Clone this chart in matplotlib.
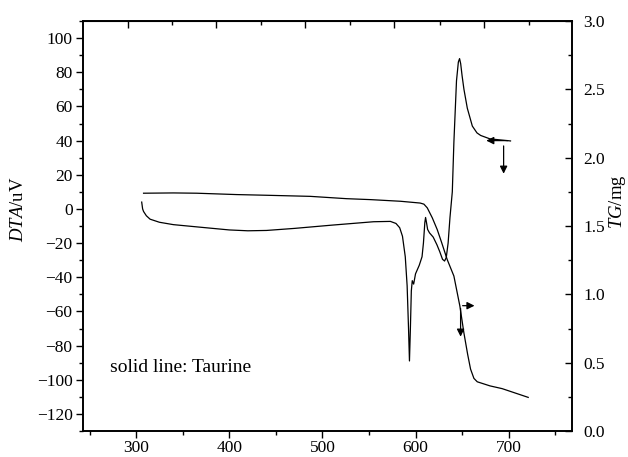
import matplotlib
matplotlib.use('Agg')
import matplotlib.pyplot as plt
import numpy as np

plt.rcParams['font.family'] = ['Liberation Serif', 'DejaVu Serif']
plt.rcParams['mathtext.fontset'] = 'custom'
plt.rcParams['mathtext.it'] = 'Liberation Serif:italic'
plt.rcParams['mathtext.rm'] = 'Liberation Serif'

# DTA curve (left axis, uV)
dta_t = [306, 307, 308, 311, 315, 325, 340, 365, 400, 420, 440, 470, 510, 555, 573,
         579, 583, 586, 589, 591, 592.5, 593.5, 594.5, 595.5, 596.5, 598, 600, 604,
         607, 608.5, 610, 610.8, 611.8, 613, 615, 619, 623, 626, 629, 631.2, 633,
         635, 637, 639.5, 641.2, 644, 646, 647.3, 648.5, 650, 652, 655.6, 661, 666,
         670, 680, 702]
dta_v = [4, 0, -1.5, -4, -6, -7.8, -9.2, -10.5, -12.3, -12.8, -12.6, -11.4, -9.5, -7.5, -7.3,
         -8.5, -11, -16, -28, -45, -70, -89, -70, -48, -42, -44, -38, -33,
         -28, -20, -8, -5, -8, -12, -14, -16.5, -21, -25, -29.5, -30.5, -28.5,
         -20, -5, 10, 39, 75, 86, 88, 85, 78, 70, 59, 48.5, 44.5,
         43, 41, 39.8]

# TG curve (right axis, mg)
tg_t = [308, 340, 365, 408, 440, 487, 526, 552, 584, 605, 609, 612.6, 618, 623.3, 628,
        634, 641.2, 647.6, 651.9, 656, 659.1, 662.7, 666.3, 680, 693, 721]
tg_v = [1.74, 1.742, 1.74, 1.73, 1.725, 1.717, 1.70, 1.693, 1.681, 1.668, 1.66, 1.633,
        1.56, 1.474, 1.38, 1.255, 1.134, 0.915, 0.72, 0.56, 0.453, 0.385, 0.36, 0.33,
        0.31, 0.246]

fig = plt.figure(figsize=(6.28, 4.57), dpi=100)
ax = fig.add_axes([0.1322, 0.0569, 0.7786, 0.8971])
ax2 = ax.twinx()

ax.plot(dta_t, dta_v, color='black', lw=0.9)
ax2.plot(tg_t, tg_v, color='black', lw=0.9)

ax.set_xlim(243, 768)
ax.set_ylim(-130, 110)
ax2.set_ylim(0, 3.0)

ax.set_xticks([300, 400, 500, 600, 700])
ax.set_xticks(np.arange(250, 800, 50), minor=True)
ax.set_yticks(np.arange(-120, 101, 20))
ax.set_yticks(np.arange(-130, 111, 10), minor=True)
ax2.set_yticks(np.arange(0, 3.01, 0.5))
ax2.set_yticks(np.arange(0, 3.01, 0.25), minor=True)
ax2.set_yticklabels(['%.1f' % v for v in np.arange(0, 3.01, 0.5)])

ax.tick_params(axis='x', which='major', direction='out', length=5, width=1, labelsize=12.5, pad=1.5)
ax.tick_params(axis='y', which='major', direction='out', length=5, width=1, labelsize=12.5, pad=2.5)
ax.tick_params(axis='both', which='minor', direction='out', length=3, width=1)
ax2.tick_params(axis='y', which='major', direction='in', length=5, width=1, labelsize=12.5, pad=8)
ax2.tick_params(axis='y', which='minor', direction='in', length=3, width=1)

# top axis ticks (inward, not aligned with the bottom axis)
top = ax.secondary_xaxis('top')
top.set_xticks([291.1, 386.0, 481.7, 577.4, 673.1])
top.set_xticks([338.7, 434.4, 530.0, 625.8, 721.5], minor=True)
top.set_xticklabels([])
top.tick_params(which='major', direction='in', length=5, width=1)
top.tick_params(which='minor', direction='in', length=3, width=1)

for a in (ax, ax2):
    for s in a.spines.values():
        s.set_linewidth(1.2)

ax.set_ylabel('$DTA$/uV', fontsize=13.5)
ax2.set_ylabel('$TG$/mg', fontsize=13.5)
ax.yaxis.set_label_coords(-0.115, 0.54)
ax2.yaxis.set_label_coords(1.072, 0.56)

ax.text(272, -93, 'solid line: Taurine', fontsize=14, va='center', ha='left')

arr = dict(arrowstyle='-|>', color='black', lw=0.9, mutation_scale=11)
ax.annotate('', xy=(673, 40), xytext=(702, 40), arrowprops=arr)
ax.annotate('', xy=(694.6, 19), xytext=(694.6, 38.5), arrowprops=arr)
ax2.annotate('', xy=(666.3, 0.917), xytext=(647.6, 0.917), arrowprops=arr)
ax2.annotate('', xy=(648.4, 0.67), xytext=(648.4, 0.917), arrowprops=arr)

fig.savefig('out.png', dpi=100)
